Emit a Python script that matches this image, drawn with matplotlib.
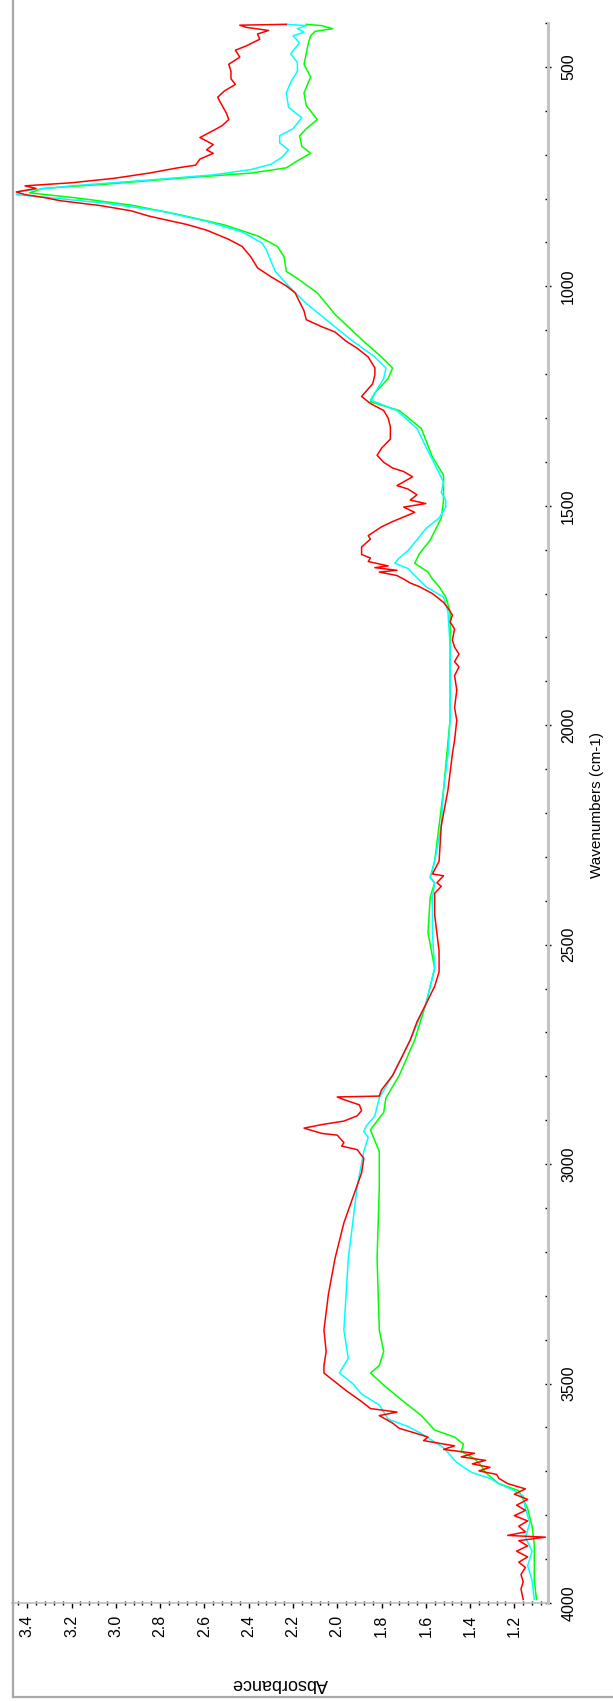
import matplotlib
matplotlib.use("Agg")
import matplotlib.pyplot as plt
from matplotlib.lines import Line2D
from matplotlib.ticker import MultipleLocator, FormatStrFormatter

plt.rcParams['font.family'] = ['Liberation Sans', 'DejaVu Sans']

# spectra: wavenumber (cm-1) and absorbance
red_wn = [403, 405, 410, 417, 425, 437, 452, 462, 478, 494, 510, 527, 540, 555, 569, 588, 606, 620,
          634, 645, 661, 677, 689, 697, 710, 724, 730, 742, 754, 764, 771, 777, 785, 791, 798, 805,
          816, 828, 840, 859, 872, 893, 909, 933, 958, 978, 999, 1015, 1056, 1076, 1092, 1104, 1125,
          1141, 1161, 1186, 1202, 1222, 1251, 1267, 1283, 1300, 1320, 1348, 1369, 1385, 1401, 1414,
          1422, 1434, 1454, 1462, 1475, 1487, 1495, 1503, 1515, 1536, 1548, 1568, 1576, 1594, 1611,
          1619, 1627, 1637, 1641, 1647, 1651, 1659, 1667, 1676, 1684, 1692, 1700, 1712, 1720, 1733,
          1749, 1765, 1781, 1806, 1822, 1838, 1855, 1867, 1887, 1920, 1960, 1989, 2034, 2066, 2148,
          2229, 2310, 2339, 2343, 2359, 2367, 2383, 2432, 2473, 2514, 2562, 2595, 2636, 2676, 2717,
          2758, 2798, 2831, 2845, 2847, 2853, 2865, 2878, 2890, 2902, 2910, 2918, 2930, 2934, 2951,
          2959, 2967, 2987, 3020, 3077, 3134, 3215, 3297, 3378, 3427, 3459, 3476, 3492, 3516, 3541,
          3557, 3565, 3573, 3590, 3602, 3614, 3622, 3630, 3642, 3650, 3659, 3667, 3675, 3683, 3691,
          3699, 3707, 3716, 3728, 3740, 3752, 3764, 3777, 3789, 3801, 3813, 3825, 3838, 3846, 3850,
          3858, 3870, 3882, 3895, 3907, 3919, 3935, 3952, 3968, 3992]
red_abs = [2.23, 2.44, 2.41, 2.31, 2.36, 2.35, 2.41, 2.46, 2.44, 2.49, 2.48, 2.48, 2.46, 2.51, 2.54,
           2.52, 2.50, 2.49, 2.52, 2.56, 2.62, 2.56, 2.59, 2.56, 2.62, 2.64, 2.72, 2.85, 3.01, 3.20,
           3.41, 3.36, 3.45, 3.41, 3.32, 3.25, 3.07, 2.93, 2.85, 2.68, 2.59, 2.49, 2.43, 2.39, 2.36,
           2.30, 2.23, 2.19, 2.15, 2.14, 2.07, 2.01, 1.96, 1.91, 1.86, 1.83, 1.83, 1.84, 1.89, 1.85,
           1.79, 1.77, 1.76, 1.76, 1.80, 1.82, 1.79, 1.75, 1.70, 1.66, 1.73, 1.68, 1.64, 1.67, 1.60,
           1.70, 1.65, 1.75, 1.80, 1.86, 1.85, 1.89, 1.89, 1.85, 1.86, 1.77, 1.83, 1.73, 1.81, 1.73,
           1.70, 1.67, 1.63, 1.60, 1.57, 1.54, 1.52, 1.50, 1.48, 1.49, 1.47, 1.48, 1.47, 1.45, 1.47,
           1.45, 1.47, 1.46, 1.47, 1.46, 1.47, 1.48, 1.50, 1.53, 1.54, 1.57, 1.52, 1.55, 1.53, 1.56,
           1.56, 1.55, 1.54, 1.54, 1.56, 1.60, 1.64, 1.67, 1.71, 1.75, 1.80, 1.81, 2.00, 1.97, 1.90,
           1.89, 1.91, 1.97, 2.07, 2.15, 2.07, 2.00, 1.97, 1.98, 1.91, 1.88, 1.89, 1.93, 1.97, 2.01,
           2.04, 2.06, 2.05, 2.06, 2.06, 2.02, 1.96, 1.89, 1.85, 1.73, 1.81, 1.75, 1.72, 1.64, 1.59,
           1.61, 1.47, 1.52, 1.38, 1.44, 1.33, 1.39, 1.31, 1.36, 1.28, 1.27, 1.23, 1.15, 1.20, 1.14,
           1.19, 1.15, 1.20, 1.14, 1.18, 1.15, 1.23, 1.06, 1.18, 1.14, 1.19, 1.14, 1.18, 1.15, 1.17,
           1.16, 1.17, 1.16]

cyan_wn = [403, 406, 413, 421, 429, 445, 470, 490, 510, 535, 559, 592, 616, 641, 657, 673, 689, 706,
           722, 734, 746, 759, 771, 783, 791, 799, 811, 828, 852, 876, 901, 917, 966, 999, 1039, 1080,
           1121, 1161, 1186, 1210, 1243, 1259, 1283, 1324, 1365, 1405, 1446, 1470, 1487, 1503, 1528,
           1552, 1584, 1602, 1619, 1631, 1643, 1659, 1684, 1708, 1741, 1822, 1985, 2066, 2148, 2229,
           2310, 2347, 2359, 2392, 2473, 2554, 2636, 2717, 2798, 2849, 2890, 2914, 2926, 2939, 2971,
           3052, 3134, 3215, 3297, 3378, 3443, 3459, 3476, 3500, 3524, 3549, 3565, 3581, 3598, 3614,
           3630, 3646, 3663, 3675, 3687, 3703, 3716, 3728, 3744, 3756, 3785, 3817, 3850, 3882, 3915,
           3948, 3992]
cyan_abs = [2.23, 2.14, 2.18, 2.15, 2.20, 2.17, 2.21, 2.18, 2.18, 2.21, 2.23, 2.22, 2.16, 2.20, 2.26,
            2.26, 2.22, 2.25, 2.30, 2.39, 2.56, 2.88, 3.20, 3.43, 3.45, 3.28, 3.04, 2.80, 2.59, 2.43,
            2.34, 2.32, 2.28, 2.22, 2.14, 2.04, 1.94, 1.83, 1.78, 1.79, 1.83, 1.85, 1.73, 1.64, 1.60,
            1.56, 1.52, 1.53, 1.51, 1.51, 1.54, 1.60, 1.65, 1.68, 1.72, 1.74, 1.68, 1.65, 1.60, 1.52,
            1.50, 1.49, 1.49, 1.50, 1.52, 1.53, 1.56, 1.58, 1.56, 1.57, 1.57, 1.56, 1.60, 1.67, 1.75,
            1.81, 1.83, 1.87, 1.88, 1.86, 1.88, 1.91, 1.93, 1.95, 1.96, 1.97, 1.95, 1.97, 1.99, 1.93,
            1.89, 1.81, 1.79, 1.77, 1.68, 1.62, 1.57, 1.52, 1.49, 1.47, 1.44, 1.39, 1.31, 1.27, 1.20,
            1.16, 1.15, 1.13, 1.15, 1.12, 1.14, 1.12, 1.11]

green_wn = [403, 406, 413, 419, 429, 445, 470, 494, 523, 559, 588, 620, 641, 657, 681, 697, 714, 730,
            742, 754, 767, 777, 787, 799, 815, 836, 860, 885, 909, 933, 966, 982, 1015, 1064, 1121,
            1161, 1186, 1210, 1243, 1263, 1283, 1324, 1389, 1430, 1487, 1528, 1568, 1578, 1610, 1631,
            1651, 1667, 1684, 1708, 1741, 1822, 1985, 2148, 2310, 2347, 2359, 2392, 2473, 2554, 2636,
            2717, 2798, 2849, 2882, 2922, 2947, 2971, 3052, 3215, 3378, 3427, 3459, 3476, 3508, 3541,
            3573, 3606, 3622, 3638, 3655, 3671, 3687, 3703, 3728, 3744, 3785, 3825, 3866, 3948, 3992]
green_abs = [2.14, 2.07, 2.02, 2.10, 2.12, 2.13, 2.14, 2.15, 2.12, 2.15, 2.14, 2.09, 2.14, 2.17, 2.16,
             2.12, 2.18, 2.23, 2.39, 2.72, 3.04, 3.33, 3.39, 3.17, 2.93, 2.72, 2.51, 2.36, 2.27, 2.24,
             2.23, 2.18, 2.09, 2.01, 1.89, 1.80, 1.75, 1.77, 1.83, 1.85, 1.72, 1.62, 1.57, 1.52, 1.52,
             1.53, 1.57, 1.58, 1.63, 1.65, 1.59, 1.57, 1.54, 1.51, 1.49, 1.49, 1.49, 1.52, 1.56, 1.58,
             1.56, 1.58, 1.59, 1.56, 1.60, 1.65, 1.72, 1.78, 1.79, 1.85, 1.83, 1.81, 1.81, 1.82, 1.81,
             1.79, 1.81, 1.85, 1.78, 1.70, 1.62, 1.56, 1.47, 1.43, 1.44, 1.38, 1.35, 1.33, 1.27, 1.18,
             1.14, 1.12, 1.11, 1.11, 1.10]

abs_ticks = [1.2, 1.4, 1.6, 1.8, 2.0, 2.2, 2.4, 2.6, 2.8, 3.0, 3.2, 3.4]
wn_ticks = [500, 1000, 1500, 2000, 2500, 3000, 3500, 4000]

W, H = 613, 1701
fig = plt.figure(figsize=(W / 100, H / 100), dpi=100)
ax = fig.add_axes([12 / W, (H - 1603) / H, 536 / W, 1580 / H])

ax.plot(green_abs, green_wn, color='#00ff00', lw=1.1)
ax.plot(cyan_abs, cyan_wn, color='#00ffff', lw=1.1)
ax.plot(red_abs, red_wn, color='#ff0000', lw=1.1)

ax.set_xlim(3.469, 1.048)
ax.set_ylim(4000, 400)

ax.spines['top'].set_visible(False)
ax.spines['left'].set_visible(False)
ax.spines['right'].set_color('#c4c4c4')
ax.spines['right'].set_linewidth(2.2)
ax.spines['bottom'].set_color('#c0c0c0')
ax.spines['bottom'].set_linewidth(1.2)

ax.xaxis.set_major_locator(plt.FixedLocator(abs_ticks))
ax.xaxis.set_minor_locator(MultipleLocator(0.04))
ax.xaxis.set_major_formatter(FormatStrFormatter('%.1f'))
ax.yaxis.set_major_locator(plt.FixedLocator(wn_ticks))
ax.yaxis.set_minor_locator(MultipleLocator(100))
ax.yaxis.tick_right()

ax.tick_params(axis='x', which='major', direction='out', length=3.6, width=1, color='black',
               pad=5, labelsize=11.5, labelrotation=90)
ax.tick_params(axis='x', which='minor', direction='inout', length=2.2, width=1, color='black')
ax.tick_params(axis='y', which='major', direction='inout', length=5, width=1, color='black',
               pad=7, labelsize=11.5, labelrotation=90)
ax.tick_params(axis='y', which='minor', direction='in', length=2.2, width=1, color='black')
for lab in ax.get_yticklabels():
    lab.set_va('center')

fig.text(280 / W, 1 - 1683 / H, 'Absorbance', rotation=180, ha='center', va='center', fontsize=13)
fig.text(597 / W, 1 - 805 / H, 'Wavenumbers (cm-1)', rotation=90, ha='center', va='center', fontsize=11)

# outer frame of the window
fig.add_artist(Line2D([12.5 / W, 12.5 / W], [1 - 1697 / H, 1], transform=fig.transFigure,
                      color='#a8a8a8', lw=1.6))
fig.add_artist(Line2D([12.5 / W, 1], [1 - 1697 / H, 1 - 1697 / H], transform=fig.transFigure,
                      color='#a8a8a8', lw=1.6))

fig.savefig('out.png', dpi=100)
